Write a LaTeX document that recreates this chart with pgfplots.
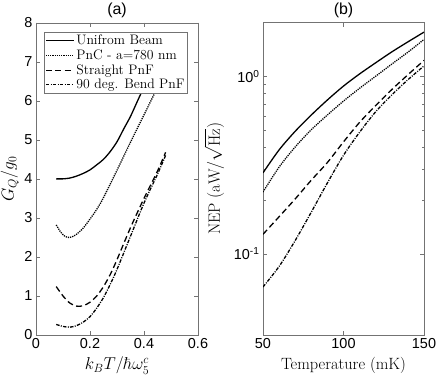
\documentclass[border=0pt]{standalone}
\usepackage{pgfplots}
\pgfplotsset{compat=1.18}
\usepackage{fontspec}
\newfontfamily\arial{Liberation Sans}

\pgfplotsset{
  matlab/.style={
    scale only axis,
    axis line style={draw=black!55},
    tick style={draw=black!55},
    tick align=inside,
    major tick length=4bp,
    minor tick length=2.5bp,
    ticklabel style={font=\arial\fontsize{14.5}{16}\selectfont},
    /pgf/number format/assume math mode=true,
    label style={font=\fontsize{16.4}{18}\selectfont},
    title style={font=\arial\fontsize{16}{18}\selectfont, yshift=-5bp},
    every axis plot/.append style={line width=1.3pt, black, smooth},
  },
  dotstyle/.style={dash pattern=on 1.2pt off 1pt},
  dashstyle/.style={dash pattern=on 6pt off 3.5pt},
  dashdotstyle/.style={dash pattern=on 3.5pt off 1.3pt on 1pt off 1.3pt},
}

\begin{document}
\begin{tikzpicture}
  \path[use as bounding box] (-36bp,-42bp) rectangle (400bp,335bp);

  % (a) gain vs. reduced temperature
  \begin{axis}[
    matlab,
    at={(0,0)}, anchor=south west,
    width=162bp, height=312.3bp,
    xmin=0, xmax=0.6, ymin=0, ymax=8,
    xtick={0,0.2,0.4,0.6},
    ytick={0,1,2,3,4,5,6,7,8},
    xlabel={$k_BT/\hbar\omega_5^c$},
    ylabel={$G_Q/g_0$},
    xlabel style={yshift=-1.5bp},
    ylabel style={yshift=-1bp},
    title={(a)},
    legend cell align=left,
    legend style={
      at={(0.049,0.97)}, anchor=north west,
      draw=black!55, fill=white,
      font=\fontsize{13.8}{15.5}\selectfont,
      inner sep=1pt, row sep=-0.5pt,
      /tikz/every even column/.append style={column sep=0pt},
    },
    legend image code/.code={\draw[#1] (0bp,0bp) -- (28bp,0bp);},
  ]
    \addplot[solid] coordinates {
      (0.075,4.00) (0.10,4.00) (0.125,4.02) (0.15,4.07) (0.175,4.14)
      (0.20,4.23) (0.225,4.36) (0.25,4.50) (0.275,4.70) (0.30,4.95)
      (0.325,5.28) (0.35,5.60) (0.375,5.98) (0.40,6.35) (0.45,7.05) (0.48,7.5)
    };
    \addlegendentry{Unifrom Beam}
    \addplot[dotstyle] coordinates {
      (0.075,2.82) (0.09,2.65) (0.105,2.54) (0.12,2.50) (0.135,2.52)
      (0.15,2.58) (0.175,2.74) (0.20,2.97) (0.225,3.22) (0.25,3.52)
      (0.30,4.22) (0.35,4.94) (0.40,5.64) (0.45,6.34) (0.48,6.75)
    };
    \addlegendentry{PnC - a=780 nm}
    \addplot[dashstyle] coordinates {
      (0.075,1.24) (0.10,1.00) (0.125,0.82) (0.15,0.74) (0.175,0.75)
      (0.20,0.84) (0.225,1.00) (0.25,1.24) (0.275,1.55) (0.30,1.93)
      (0.35,2.75) (0.40,3.50) (0.45,4.20) (0.48,4.68)
    };
    \addlegendentry{Straight PnF}
    \addplot[dashdotstyle] coordinates {
      (0.075,0.27) (0.10,0.22) (0.125,0.20) (0.15,0.24) (0.175,0.33)
      (0.20,0.47) (0.225,0.69) (0.25,0.96) (0.275,1.30) (0.30,1.68)
      (0.35,2.53) (0.40,3.38) (0.45,4.12) (0.48,4.60)
    };
    \addlegendentry{90 deg. Bend PnF}
  \end{axis}

  % (b) NEP vs. temperature
  \begin{axis}[
    matlab,
    at={(227bp,0)}, anchor=south west,
    width=161bp, height=312.3bp,
    ymode=log,
    xmin=50, xmax=150, ymin=0.035, ymax=2,
    xtick={50,100,150},
    ytick={0.1,1},
    yticklabels={10\textsuperscript{-1},10\textsuperscript{0}},
    xlabel={Temperature (mK)},
    ylabel={NEP $(\mathrm{aW}/\sqrt{\mathrm{Hz}})$},
    xlabel style={yshift=-1.5bp},
    ylabel style={yshift=3bp},
    title={(b)},
  ]
    \addplot[solid] coordinates {
      (50,0.286) (60,0.385) (70,0.49) (80,0.605) (90,0.735) (100,0.88)
      (110,1.03) (120,1.19) (130,1.37) (140,1.56) (150,1.77)
    };
    \addplot[dotstyle] coordinates {
      (50,0.223) (60,0.308) (70,0.40) (80,0.50) (90,0.605) (100,0.725)
      (110,0.855) (120,1.00) (130,1.17) (140,1.365) (150,1.61)
    };
    \addplot[dashstyle] coordinates {
      (50,0.129) (60,0.162) (70,0.204) (80,0.260) (90,0.327) (100,0.427)
      (110,0.550) (120,0.684) (130,0.841) (140,1.019) (150,1.227)
    };
    \addplot[dashdotstyle] coordinates {
      (50,0.0652) (60,0.0851) (70,0.119) (80,0.172) (90,0.251) (100,0.359)
      (110,0.484) (120,0.631) (130,0.785) (140,0.955) (150,1.143)
    };
  \end{axis}
\end{tikzpicture}
\end{document}
